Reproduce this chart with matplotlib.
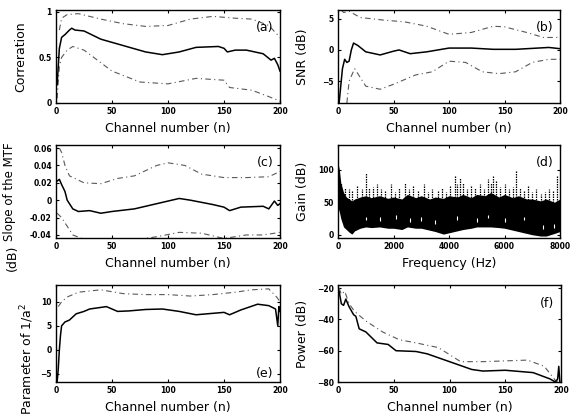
import numpy as np
import matplotlib
matplotlib.use("Agg")
import matplotlib.pyplot as plt

# ---- (a) correlation ----
n_a = [1, 3, 5, 8, 12, 14, 17, 25, 40, 60, 80, 95, 110, 125, 145, 150, 153, 160, 170, 185, 192, 195, 198, 200]
corr_mean = [0.2, 0.6, 0.72, 0.75, 0.8, 0.82, 0.8, 0.79, 0.7, 0.63, 0.56, 0.53, 0.56, 0.61, 0.62, 0.6, 0.56, 0.58, 0.58, 0.54, 0.47, 0.49, 0.42, 0.35]
n_a_up = [3, 5, 10, 20, 40, 60, 80, 100, 120, 140, 160, 175, 190, 200]
corr_up = [0.8, 0.93, 0.97, 0.98, 0.92, 0.87, 0.84, 0.85, 0.92, 0.95, 0.93, 0.92, 0.85, 0.72]
n_a_lo = [1, 3, 5, 10, 15, 25, 50, 75, 100, 125, 150, 155, 175, 190, 200]
corr_lo = [0.05, 0.4, 0.5, 0.58, 0.62, 0.58, 0.35, 0.23, 0.21, 0.27, 0.25, 0.17, 0.14, 0.07, 0.02]

# ---- (b) SNR ----
n_b = [1, 4, 6, 8, 10, 12, 14, 18, 25, 38, 50, 55, 65, 80, 100, 120, 140, 160, 180, 190, 200]
snr_mean = [-8.5, -3, -1.5, -2, -1.8, 0, 1.1, 0.7, -0.3, -0.8, -0.2, 0, -0.6, -0.3, 0.3, 0.3, 0.1, 0.1, 0.3, 0.4, 0.2]
n_b_up = [3, 5, 10, 20, 40, 60, 80, 100, 120, 140, 150, 170, 185, 200]
snr_up = [6.4, 6.0, 6.2, 5.2, 4.8, 4.5, 3.8, 2.5, 2.8, 3.8, 3.7, 2.8, 2.0, 2.0]
n_b_lo = [8, 10, 15, 25, 38, 50, 70, 85, 100, 115, 130, 145, 160, 175, 190, 200]
snr_lo = [-8.5, -5, -3, -5.8, -6.3, -5.5, -4, -3.5, -1.8, -2, -3.5, -3.8, -3.5, -2.0, -1.5, -1.5]

# ---- (c) slope of the MTF ----
n_c = [1, 3, 5, 8, 10, 15, 20, 30, 40, 50, 70, 90, 110, 120, 140, 150, 155, 165, 185, 190, 195, 198, 200]
slope_mean = [0.022, 0.024, 0.018, 0.01, 0.0, -0.01, -0.013, -0.012, -0.015, -0.013, -0.01, -0.004, 0.002, 0.0, -0.005, -0.008, -0.012, -0.008, -0.007, -0.01, -0.001, -0.006, -0.004]
n_c_up = [3, 5, 8, 12, 25, 40, 55, 70, 90, 100, 115, 130, 150, 170, 190, 200]
slope_up = [0.06, 0.055, 0.04, 0.028, 0.02, 0.019, 0.025, 0.028, 0.04, 0.043, 0.04, 0.03, 0.026, 0.026, 0.027, 0.033]
n_c_lo = [1, 5, 10, 15, 25, 50, 70, 90, 110, 130, 150, 170, 185, 195, 200]
slope_lo = [-0.015, -0.02, -0.03, -0.04, -0.045, -0.048, -0.046, -0.042, -0.037, -0.038, -0.044, -0.04, -0.04, -0.038, -0.037]

# ---- (d) gain vs frequency (band envelope + spikes) ----
freq = [0, 50, 100, 200, 300, 400, 500, 600, 800, 1000, 1200, 1500, 1800, 2000, 2300, 2500, 2800, 3000, 3300, 3500, 3800, 4000,
        4300, 4500, 4800, 5000, 5300, 5500, 5800, 6000, 6300, 6500, 6800, 7000, 7300, 7500, 7800, 8000]
gain_hi = [110, 100, 80, 65, 58, 55, 52, 55, 58, 60, 57, 60, 56, 58, 55, 62, 57, 60, 55, 58, 56, 60,
           58, 62, 57, 62, 60, 65, 58, 62, 57, 60, 55, 55, 52, 55, 50, 55]
gain_lo = [42, 35, 25, 12, 8, 4, 1, 6, 10, 12, 11, 12, 10, 10, 8, 12, 10, 10, 7, 5, 1, 3,
           6, 8, 10, 12, 12, 12, 11, 10, 7, 5, 2, 0, -2, -2, 2, 5]
peak_f = [120, 250, 400, 520, 700, 850, 1000, 1100, 1250, 1400, 1550, 1700, 1900, 2050, 2200, 2400, 2550, 2700, 2900,
          3100, 3250, 3400, 3600, 3750, 3900, 4050, 4200, 4300, 4400, 4500, 4650, 4800, 4950, 5100, 5250, 5400, 5500,
          5600, 5700, 5850, 6000, 6150, 6300, 6400, 6550, 6700, 6850, 7000, 7150, 7300, 7450, 7600, 7750, 7900]
peak_g = [80, 72, 70, 68, 75, 70, 95, 72, 74, 78, 70, 68, 78, 66, 72, 80, 70, 75, 68, 78, 66, 70, 68, 72, 66, 75, 90,
          78, 88, 80, 70, 75, 72, 78, 70, 85, 80, 92, 82, 74, 78, 70, 74, 100, 72, 68, 75, 66, 70, 62, 66, 70, 68, 92]
speck_f = [1000, 1500, 2100, 2600, 3000, 3500, 4300, 5000, 5400, 6000, 6700, 7400, 7800]
speck_g = [25, 24, 27, 22, 24, 20, 26, 23, 28, 22, 25, 12, 14]

# ---- (e) parameter of 1/a^2 ----
n_e = [1, 2, 3, 4, 5, 8, 12, 18, 25, 30, 45, 50, 55, 65, 80, 95, 110, 125, 140, 150, 155, 165, 180, 190, 196, 198, 199, 200]
par_mean = [-6.7, -4, 0, 3, 5, 5.8, 6.2, 7.5, 8.0, 8.5, 9.0, 8.5, 8.0, 8.1, 8.4, 8.5, 8.0, 7.3, 7.6, 7.8, 7.3, 8.3, 9.5, 9.2, 8.5, 5, 9, 8]
n_e_up = [2, 5, 10, 20, 40, 60, 80, 100, 120, 140, 160, 175, 190, 197, 200]
par_up = [9, 10, 11, 12, 12.5, 11.7, 11.5, 11.5, 11.2, 11.5, 12, 12.5, 12.7, 11, 10]

# ---- (f) power ----
n_f = [1, 3, 5, 7, 10, 14, 16, 19, 25, 35, 45, 52, 70, 80, 100, 120, 130, 150, 175, 190, 195, 197, 198, 199]
pow_mean = [-22, -30, -31, -27, -32, -37, -38, -46, -48, -55, -56, -60, -60.5, -62, -67, -72, -73, -72.5, -74, -78, -80, -78, -70, -80]
n_f_up = [1, 3, 6, 10, 15, 25, 40, 55, 70, 90, 110, 130, 150, 170, 185, 195, 200]
pow_up = [-20, -24, -22, -30, -35, -41, -48, -53, -55, -58, -67, -67, -66.5, -66, -70, -79, -80]

fig = plt.figure(figsize=(5.7, 4.18), dpi=100)

W, H = 570.0, 418.0
def box(l, t, r, b):
    return [l / W, 1 - b / H, (r - l) / W, (b - t) / H]

ax_a = fig.add_axes(box(56, 10, 280, 103))
ax_b = fig.add_axes(box(338, 10, 560, 103))
ax_c = fig.add_axes(box(56, 145, 280, 238))
ax_d = fig.add_axes(box(338, 145, 560, 238))
ax_e = fig.add_axes(box(56, 285, 280, 382))
ax_f = fig.add_axes(box(338, 285, 561, 382))

dash = dict(color="0.35", lw=0.8, ls=(0, (5, 3, 1, 3)))
solid = dict(color="k", lw=1.1)

ax_a.plot(n_a_up, corr_up, **dash)
ax_a.plot(n_a_lo, corr_lo, **dash)
ax_a.plot(n_a, corr_mean, **solid)
ax_a.set_ylim(0, 1.02)
ax_a.set_yticks([0, 0.5, 1])
ax_a.set_yticklabels(["0", "0.5", "1"])
ax_a.set_ylabel("Correration")

ax_b.plot(n_b_up, snr_up, **dash)
ax_b.plot(n_b_lo, snr_lo, **dash)
ax_b.plot(n_b, snr_mean, **solid)
ax_b.set_ylim(-8.5, 6.4)
ax_b.set_yticks([-5, 0, 5])
ax_b.set_ylabel("SNR (dB)")

ax_c.plot(n_c_up, slope_up, **dash)
ax_c.plot(n_c_lo, slope_lo, **dash)
ax_c.plot(n_c, slope_mean, **solid)
ax_c.set_ylim(-0.0435, 0.0635)
ax_c.set_yticks([-0.04, -0.02, 0, 0.02, 0.04, 0.06])
ax_c.set_yticklabels(["-0.04", "-0.02", "0", "0.02", "0.04", "0.06"])
ax_c.set_ylabel("Slope of the MTF", fontsize=8.5)

ax_d.fill_between(freq, gain_lo, gain_hi, color="k", lw=0)
ax_d.vlines(peak_f, 45, peak_g, color="k", lw=0.9, linestyles=(0, (1.2, 0.8)))
ax_d.vlines(speck_f, np.array(speck_g) - 3, np.array(speck_g) + 3, color="w", lw=0.8)
ax_d.set_xlim(0, 8000)
ax_d.set_ylim(-5, 138)
ax_d.set_xticks([0, 2000, 4000, 6000, 8000])
ax_d.set_yticks([0, 50, 100])
ax_d.set_ylabel("Gain (dB)")
ax_d.set_xlabel("Frequency (Hz)", labelpad=4)

ax_e.plot(n_e_up, par_up, **dash)
ax_e.plot(n_e, par_mean, **solid)
ax_e.set_ylim(-6.7, 13.5)
ax_e.set_yticks([-5, 0, 5, 10])

ax_f.plot(n_f_up, pow_up, **dash)
ax_f.plot(n_f, pow_mean, **solid)
ax_f.set_ylim(-80, -18)
ax_f.set_yticks([-80, -60, -40, -20])
ax_f.set_ylabel("Power (dB)")

letters = ["(a)", "(b)", "(c)", "(d)", "(e)", "(f)"]
for ax, let in zip([ax_a, ax_b, ax_c, ax_d, ax_e, ax_f], letters):
    if ax is not ax_d:
        ax.set_xlim(0, 200)
        ax.set_xticks([0, 50, 100, 150, 200])
        ax.set_xlabel("Channel number (n)", labelpad=4)
    ax.tick_params(direction="in", top=True, right=True, length=2.5, width=0.8,
                   labelsize=5.5, pad=3)
    for lab in ax.get_xticklabels() + ax.get_yticklabels():
        lab.set_fontweight("bold")
    ax.xaxis.label.set_fontsize(9)
    if ax is not ax_c:
        ax.yaxis.label.set_fontsize(9)
    for sp in ax.spines.values():
        sp.set_linewidth(1.0)
    if let == "(e)":
        ax.text(0.97, 0.02, let, transform=ax.transAxes, ha="right", va="bottom", fontsize=9)
    else:
        ax.text(0.97, 0.88, let, transform=ax.transAxes, ha="right", va="top", fontsize=9)

ax_a.yaxis.set_label_coords(-0.13, 0.5)
ax_b.yaxis.set_label_coords(-0.13, 0.5)
ax_c.yaxis.set_label_coords(-0.18, 0.5)
ax_d.yaxis.set_label_coords(-0.13, 0.5)
ax_f.yaxis.set_label_coords(-0.13, 0.5)

# (e) label is long and spills up the left margin
fig.text(27 / W, 3 / H, "Parameter of 1/a$^2$", rotation=90, ha="center", va="bottom", fontsize=9)
fig.text(12 / W, 1 - 258 / H, "(dB)", rotation=90, ha="center", va="center", fontsize=9)

fig.savefig("out.png", dpi=100)
